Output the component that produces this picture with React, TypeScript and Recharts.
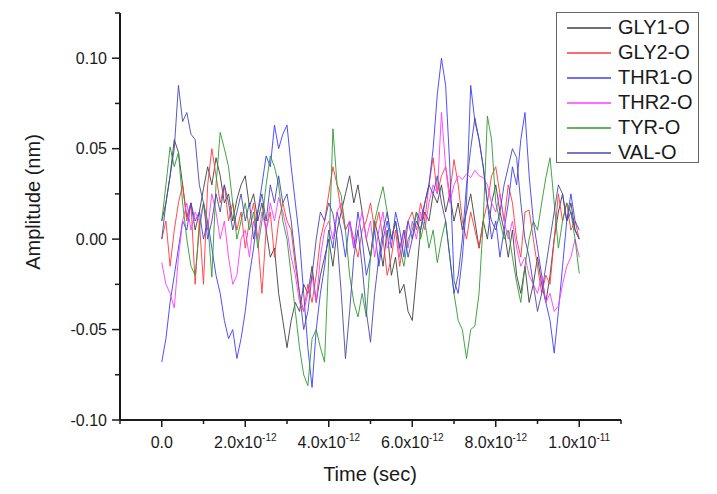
import { LineChart, Line, XAxis, YAxis, Legend } from 'recharts'

// time grid in units of 1e-12 s
const STEP_PS = 0.1

const GLY1_O = [
  0.010, 0.020, 0.035, 0.055, 0.048, 0.030, 0.012, 0.020, 0.005, 0.015,
  0.028, 0.040, 0.030, 0.045, 0.035, 0.020, 0.025, 0.010, 0.022, 0.030,
  0.035, 0.018, 0.025, 0.010, 0.020, 0.005, -0.010, -0.005, -0.030, -0.045,
  -0.060, -0.045, -0.035, -0.040, -0.025, -0.030, -0.015, -0.035, -0.020, -0.010,
  0.000, -0.015, 0.005, 0.015, 0.025, 0.035, 0.020, 0.030, 0.015, 0.000,
  -0.010, 0.010, 0.000, -0.015, 0.005, -0.020, -0.010, -0.030, -0.025, -0.040,
  -0.045, -0.020, 0.005, 0.015, 0.010, 0.025, 0.020, 0.030, 0.015, 0.025,
  0.010, 0.020, 0.005, 0.015, 0.025, 0.010, -0.005, 0.010, 0.000, 0.020,
  0.030, 0.015, 0.005, -0.010, 0.005, -0.020, -0.030, -0.015, -0.035, -0.025,
  -0.010, -0.025, -0.035, -0.020, 0.000, 0.015, 0.025, 0.010, 0.020, 0.005,
  0.000,
]

const GLY2_O = [
  0.000, 0.010, -0.015, 0.005, 0.020, 0.030, 0.010, 0.020, -0.025, 0.010,
  -0.025, 0.030, 0.050, 0.035, 0.020, 0.030, 0.010, 0.020, 0.005, 0.015,
  -0.005, 0.010, 0.020, 0.000, -0.030, 0.005, 0.015, -0.010, 0.010, 0.020,
  0.010, 0.005, -0.015, -0.030, -0.040, -0.025, -0.035, -0.020, 0.000, 0.010,
  0.025, 0.040, 0.030, 0.015, 0.005, 0.010, 0.000, -0.010, 0.005, 0.010,
  0.020, 0.005, 0.015, 0.000, -0.020, -0.010, 0.005, -0.015, 0.000, 0.010,
  0.015, 0.005, 0.020, 0.010, 0.030, 0.045, 0.025, 0.035, 0.040, 0.025,
  0.044, 0.030, 0.010, 0.000, 0.015, 0.005, -0.005, 0.010, 0.020, 0.035,
  0.040, 0.025, 0.010, 0.030, 0.020, 0.000, -0.010, 0.015, 0.016, 0.000,
  -0.015, -0.030, -0.020, -0.025, 0.000, 0.025, 0.010, 0.020, 0.005, 0.010,
  0.000,
]

const THR1_O = [
  -0.068, -0.055, -0.035, -0.020, -0.005, 0.010, 0.005, 0.020, 0.010, 0.015,
  0.000, 0.010, -0.005, -0.020, -0.030, -0.045, -0.055, -0.050, -0.066, -0.055,
  -0.040, -0.020, -0.005, 0.015, 0.030, 0.046, 0.040, 0.063, 0.050, 0.058,
  0.063, 0.040, 0.020, 0.000, -0.030, -0.060, -0.082, -0.050, -0.030, -0.015,
  0.005, -0.005, 0.015, 0.005, -0.010, 0.010, -0.005, 0.015, 0.000, -0.020,
  -0.010, 0.005, -0.015, 0.000, 0.010, -0.005, 0.015, 0.005, -0.010, 0.010,
  0.000, 0.015, 0.010, 0.020, 0.030, 0.050, 0.080, 0.100, 0.085, 0.040,
  -0.023, -0.030, -0.010, 0.020, 0.085, 0.065, 0.055, 0.040, 0.020, 0.000,
  0.010, -0.010, 0.005, 0.020, 0.040, 0.030, 0.055, 0.070, 0.035, 0.010,
  -0.005, -0.020, -0.035, -0.045, -0.063, -0.040, -0.015, 0.010, 0.025, 0.010,
  0.005,
]

const THR2_O = [
  -0.013, -0.025, -0.030, -0.038, -0.010, 0.010, 0.020, 0.005, 0.015, 0.010,
  0.020, 0.005, 0.025, 0.015, 0.000, 0.010, -0.010, -0.025, -0.020, 0.000,
  0.005, -0.010, 0.010, 0.000, 0.015, 0.005, 0.020, 0.010, 0.023, 0.015,
  0.005, -0.010, -0.020, -0.035, -0.040, -0.030, -0.020, -0.035, -0.010, 0.005,
  0.010, 0.000, 0.015, 0.020, 0.005, 0.010, -0.005, 0.005, 0.015, 0.000,
  0.010, -0.010, 0.005, 0.015, -0.005, 0.000, 0.010, -0.010, 0.005, -0.005,
  0.010, 0.000, 0.015, 0.005, 0.020, 0.030, 0.025, 0.070, 0.040, 0.020,
  0.030, 0.035, 0.033, 0.036, 0.034, 0.038, 0.035, 0.034, 0.030, 0.020,
  0.015, 0.025, 0.010, 0.000, 0.010, -0.005, -0.015, -0.010, -0.020, -0.025,
  -0.030, -0.020, -0.035, -0.030, -0.040, -0.037, -0.025, -0.015, -0.010, 0.000,
  -0.010,
]

const TYR_O = [
  0.010, 0.030, 0.051, 0.040, 0.048, 0.020, 0.000, -0.015, -0.020, 0.005,
  0.020, 0.010, -0.021, 0.030, 0.059, 0.050, 0.040, 0.020, 0.000, 0.010,
  0.020, 0.005, 0.015, -0.005, 0.010, 0.030, 0.046, 0.040, 0.030, 0.010,
  0.000, -0.020, -0.040, -0.060, -0.075, -0.081, -0.055, -0.050, -0.060, -0.068,
  -0.010, 0.061, 0.030, 0.024, 0.005, -0.020, -0.035, -0.043, -0.030, -0.043,
  -0.010, 0.010, 0.020, 0.029, 0.015, 0.000, 0.010, -0.005, -0.015, 0.000,
  0.005, 0.015, 0.000, 0.010, -0.005, 0.005, -0.013, 0.000, 0.010, -0.010,
  -0.030, -0.045, -0.050, -0.066, -0.050, -0.048, -0.030, 0.010, 0.068, 0.055,
  0.020, 0.010, 0.000, 0.005, -0.010, -0.024, -0.035, -0.015, 0.000, 0.010,
  0.005, 0.020, 0.034, 0.045, 0.020, -0.005, 0.010, 0.020, 0.015, 0.000,
  -0.019,
]

const VAL_O = [
  0.000, 0.020, 0.035, 0.050, 0.085, 0.065, 0.070, 0.058, 0.055, 0.030,
  0.020, 0.000, 0.010, 0.025, 0.015, 0.030, 0.020, 0.005, 0.015, 0.025,
  0.010, 0.020, 0.000, 0.015, 0.025, 0.010, 0.030, 0.020, 0.035, 0.020,
  0.025, 0.010, -0.010, -0.030, -0.050, -0.040, -0.020, 0.000, 0.015, 0.010,
  0.020, 0.014, 0.000, -0.030, -0.066, -0.040, -0.010, 0.005, -0.015, -0.040,
  -0.057, -0.030, -0.010, 0.005, 0.015, 0.000, 0.010, -0.005, 0.005, -0.010,
  0.000, 0.010, 0.005, 0.020, 0.030, 0.025, 0.035, 0.020, 0.010, -0.010,
  -0.030, -0.020, 0.000, 0.030, 0.050, 0.067, 0.055, 0.040, 0.020, 0.010,
  0.005, 0.015, 0.030, 0.040, 0.050, 0.045, 0.020, 0.000, -0.010, -0.025,
  -0.040, -0.030, -0.015, 0.000, 0.015, 0.030, 0.025, 0.010, 0.015, 0.005,
  0.000,
]

const SERIES = [
  { key: 'GLY1-O', values: GLY1_O, color: '#404040' },
  { key: 'GLY2-O', values: GLY2_O, color: '#ff3a3a' },
  { key: 'THR1-O', values: THR1_O, color: '#3d3dff' },
  { key: 'THR2-O', values: THR2_O, color: '#ff3cff' },
  { key: 'TYR-O', values: TYR_O, color: '#2f9a2f' },
  { key: 'VAL-O', values: VAL_O, color: '#4848b0' },
]

const X_TICKS = [-1, 0, 1, 2, 3, 4, 5, 6, 7, 8, 9, 10, 11]
const X_LABELS: Record<number, [string, string]> = {
  0: ['0.0', ''],
  2: ['2.0x10', '-12'],
  4: ['4.0x10', '-12'],
  6: ['6.0x10', '-12'],
  8: ['8.0x10', '-12'],
  10: ['1.0x10', '-11'],
}
const Y_TICKS = [-0.1, -0.075, -0.05, -0.025, 0, 0.025, 0.05, 0.075, 0.1, 0.125]
const Y_MAJOR = [-0.1, -0.05, 0, 0.05, 0.1]

const FONT = '"Liberation Sans", Arial, sans-serif'
const INK = '#1a1a1a'

const data = GLY1_O.map((_, i) => {
  const row: Record<string, number> = { t: +(i * STEP_PS).toFixed(1) }
  SERIES.forEach(s => { row[s.key] = s.values[i] })
  return row
})

function XTick({ x, y, payload }: any) {
  const label = X_LABELS[payload.value]
  return (
    <g>
      <line x1={x} x2={x} y1={y} y2={y + (label ? 7 : 4)} stroke={INK} strokeWidth={1.5} />
      {label && (
        <text x={x} y={y + 28} textAnchor="middle" fontSize={16} fontFamily={FONT} fill={INK}>
          {label[0]}
          {label[1] && <tspan dy={-7} fontSize={10}>{label[1]}</tspan>}
        </text>
      )}
    </g>
  )
}

function YTick({ x, y, payload }: any) {
  const major = Y_MAJOR.some(v => Math.abs(v - payload.value) < 1e-9)
  return (
    <g>
      <line x1={x - (major ? 8 : 5)} x2={x} y1={y} y2={y} stroke={INK} strokeWidth={1.5} />
      {major && (
        <text x={x - 13} y={y + 5.5} textAnchor="end" fontSize={16} fontFamily={FONT} fill={INK}>
          {payload.value.toFixed(2)}
        </text>
      )}
    </g>
  )
}

function LegendBox() {
  return (
    <div style={{ border: '1.5px solid #666', boxSizing: 'border-box', width: 143, height: 151, padding: '2px 0 0 0', background: '#fff' }}>
      {SERIES.map(s => (
        <div key={s.key} style={{ display: 'flex', alignItems: 'center', height: 25 }}>
          <div style={{ width: 44, height: 2, background: s.color, marginLeft: 10, opacity: 0.75 }} />
          <span style={{ marginLeft: 7, fontSize: 20, fontFamily: FONT, color: INK, lineHeight: '25px' }}>{s.key}</span>
        </div>
      ))}
    </div>
  )
}

export default function App() {
  return (
    <div style={{ width: 717, height: 494, background: '#fff', fontFamily: FONT }}>
      <style>{'body{margin:0;background:#fff}'}</style>
      <LineChart width={717} height={494} data={data} margin={{ top: 13, right: 96, bottom: 0, left: 0 }}>
        <XAxis
          type="number"
          dataKey="t"
          domain={[-1, 11]}
          ticks={X_TICKS}
          interval={0}
          tickSize={0}
          tickMargin={0}
          tickLine={false}
          tick={<XTick />}
          height={74}
          axisLine={{ stroke: INK, strokeWidth: 2 }}
          label={{
            content: ({ viewBox }: any) => (
              <text x={370} y={viewBox.y + 61} textAnchor="middle" fontSize={20} fontFamily={FONT} fill={INK}>
                Time (sec)
              </text>
            ),
          }}
        />
        <YAxis
          type="number"
          domain={[-0.1, 0.125]}
          ticks={Y_TICKS}
          interval={0}
          tickSize={0}
          tickMargin={0}
          tickLine={false}
          tick={<YTick />}
          width={120}
          axisLine={{ stroke: INK, strokeWidth: 2 }}
          label={{
            content: () => (
              <text x={40} y={202} transform="rotate(-90 40 202)" textAnchor="middle" fontSize={20} fontFamily={FONT} fill={INK}>
                Amplitude (nm)
              </text>
            ),
          }}
        />
        {SERIES.map(s => (
          <Line
            key={s.key}
            dataKey={s.key}
            name={s.key}
            type="linear"
            stroke={s.color}
            strokeWidth={1}
            strokeOpacity={0.9}
            dot={false}
            isAnimationActive={false}
          />
        ))}
        <Legend
          layout="horizontal"
          align="center"
          verticalAlign="middle"
          content={<LegendBox />}
          wrapperStyle={{ left: 556, top: 12, width: 143, height: 151 }}
        />
      </LineChart>
    </div>
  )
}
